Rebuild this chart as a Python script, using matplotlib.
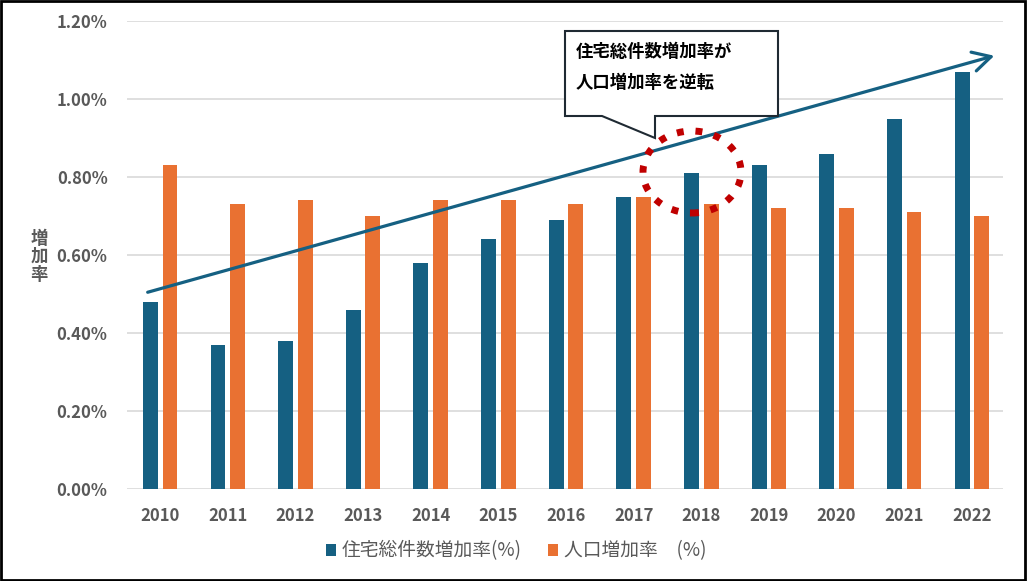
import numpy as np
import matplotlib
matplotlib.use('Agg')
import matplotlib.pyplot as plt
from matplotlib.patches import Ellipse, Polygon
from matplotlib.ticker import FuncFormatter

plt.rcParams['font.family'] = ['Noto Sans CJK JP', 'DejaVu Sans']

years = ['2010', '2011', '2012', '2013', '2014', '2015', '2016',
         '2017', '2018', '2019', '2020', '2021', '2022']
housing = [0.48, 0.37, 0.38, 0.46, 0.58, 0.64, 0.69, 0.75, 0.81, 0.83, 0.86, 0.95, 1.07]
population = [0.83, 0.73, 0.74, 0.70, 0.74, 0.74, 0.73, 0.75, 0.73, 0.72, 0.72, 0.71, 0.70]

W, H = 1027, 581
fig = plt.figure(figsize=(W / 100, H / 100), dpi=100)
ax = fig.add_axes([127 / W, 1 - 489 / H, (1003 - 127) / W, (489 - 21) / H])


def px(x, y):
    # 画像のピクセル座標(左上原点) -> figure座標
    return (x / W, 1 - y / H)


x = np.arange(len(years))
bw = 0.22
ax.bar(x - 0.145, housing, bw, color='#156082', label='住宅総件数増加率(%)', zorder=3)
ax.bar(x + 0.145, population, bw, color='#E97132', label='人口増加率　(%)', zorder=3)

ax.set_xlim(-0.49, 12.46)
ax.set_ylim(0, 1.2)
ax.set_yticks(np.arange(0, 1.21, 0.2))
ax.yaxis.set_major_formatter(FuncFormatter(lambda v, p: '{:.2f}%'.format(v)))
ax.set_xticks(x)
ax.set_xticklabels(years)
ax.grid(axis='y', color='#D9D9D9', linewidth=1.2, zorder=0)
for s in ax.spines.values():
    s.set_visible(False)
ax.tick_params(length=0, colors='#595959', labelsize=12, pad=14)
for lab in ax.get_xticklabels() + ax.get_yticklabels():
    lab.set_fontweight('bold')
ax.tick_params(axis='x', pad=13)

fig.text(39 / W, 1 - 257 / H, '増\n加\n率', ha='center', va='center', fontsize=12.5,
         color='#595959', fontweight='bold', linespacing=1.0)

leg = ax.legend(loc='center', bbox_to_anchor=(px(516, 551)), bbox_transform=fig.transFigure,
                ncol=2, frameon=False, fontsize=13.5, handlelength=0.55, handleheight=0.55,
                handletextpad=0.3, columnspacing=1.4)
for t in leg.get_texts():
    t.set_color('#595959')

# トレンド矢印
fig.add_artist(matplotlib.patches.FancyArrowPatch(
    px(145, 293), px(997, 55), transform=fig.transFigure,
    arrowstyle='->,head_length=13,head_width=7', color='#156082', lw=2.3,
    mutation_scale=1, zorder=5))

# 吹き出し
pts = [(565, 31), (778, 31), (778, 116), (655, 116), (655, 138), (602, 116), (565, 116)]
fig.add_artist(Polygon([px(a, b) for a, b in pts], closed=True, transform=fig.transFigure,
                       facecolor='white', edgecolor='#1F2A33', lw=1.5, zorder=6))
fig.text(576 / W, 1 - 52 / H, '住宅総件数増加率が', ha='left', va='center', fontsize=12.5,
         fontweight='bold', color='black', zorder=7)
fig.text(576 / W, 1 - 83 / H, '人口増加率を逆転', ha='left', va='center', fontsize=12.5,
         fontweight='bold', color='black', zorder=7)

# 点線の円
fig.add_artist(Ellipse(px(692, 172), 98 / W, 82 / H, transform=fig.transFigure,
                       fill=False, edgecolor='#C00000', lw=5, linestyle=(0, (1, 1.7)), zorder=6))

# 外枠
fig.add_artist(matplotlib.patches.Rectangle((0.001, 0.002), 0.997, 0.996, transform=fig.transFigure,
                                            fill=False, edgecolor='black', lw=2))

fig.savefig('out.png', dpi=100)
